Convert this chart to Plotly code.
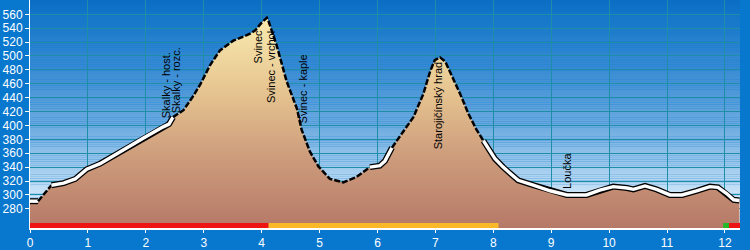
import plotly.graph_objects as go

# ---------------- data ----------------
km = [0.00, 0.14, 0.37, 0.58, 0.78, 0.98, 1.21, 1.55, 1.96, 2.30, 2.40, 2.47,
      2.65, 2.80, 2.94, 3.11, 3.28, 3.51, 3.70, 3.80, 3.89, 4.00, 4.09, 4.12,
      4.26, 4.43, 4.61, 4.69, 4.83, 4.98, 5.18, 5.41, 5.64, 5.87, 6.04, 6.13,
      6.25, 6.39, 6.62, 6.79, 6.91, 6.99, 7.08, 7.17, 7.28, 7.43, 7.57, 7.71,
      7.83, 7.94, 8.03, 8.17, 8.43, 8.69, 8.98, 9.27, 9.61, 9.84, 10.07, 10.31,
      10.42, 10.62, 10.82, 11.05, 11.26, 11.51, 11.74, 11.88, 12.03, 12.15, 12.25]
elev = [291, 291, 314, 317, 323, 337, 345, 362, 382, 398, 402, 412,
        422, 440, 459, 487, 508, 522, 529, 532, 537, 548, 555, 550,
        515, 464, 424, 394, 363, 341, 323, 318, 326, 340, 342, 349,
        368, 384, 412, 445, 478, 494, 498, 492, 473, 445, 417, 394,
        378, 363, 352, 340, 321, 314, 306, 300, 300, 307, 312, 310,
        308, 313, 308, 300, 300, 306, 312, 311, 302, 293, 292]

# steep stretches drawn dashed (km from, km to)
steep_from = [0.14, 2.47, 6.25]
steep_to = [0.37, 5.87, 7.83]

label_names = ["Skalky - host.", "Skalky - rozc.", "Svinec", "Svinec - vrchol",
               "Svinec - kaple", "Starojičínský hrad", "Loučka"]
label_km = [2.35, 2.52, 3.94, 4.16, 4.71, 7.05, 9.26]
label_elev = [458, 465, 514, 484, 453, 428, 335]

seg_start = [0.00, 4.12, 11.97, 12.07]
seg_end = [4.12, 8.09, 12.07, 12.28]
seg_color = ["#EE1414", "#FBB829", "#22B828", "#EE1414"]

x_ticks = list(range(0, 13))
y_ticks = list(range(280, 561, 20))

X_MAX = 12.26
Y_MIN, Y_MAX = 252.4, 580.6
BAR_Y = 256.0

# ---------------- figure ----------------
fig = go.Figure()

# background vertical gradient (below the grid)
bg_stops = [(Y_MIN, (234, 245, 252)), (285, (226, 241, 250)), (300, (204, 229, 247)),
            (340, (160, 203, 237)), (400, (108, 171, 224)), (480, (58, 140, 212)),
            (560, (20, 118, 200)), (Y_MAX, (10, 108, 196))]


def bg_color(v):
    for (a, ca), (b, cb) in zip(bg_stops[:-1], bg_stops[1:]):
        if a <= v <= b:
            t = (v - a) / (b - a)
            c = [round(ca[i] + (cb[i] - ca[i]) * t) for i in range(3)]
            return "rgb(%d,%d,%d)" % tuple(c)
    return "rgb(%d,%d,%d)" % bg_stops[-1][1]


n = 120
step = (Y_MAX - Y_MIN) / n
shapes = []
for i in range(n):
    y0 = Y_MIN + i * step
    shapes.append(dict(type="rect", xref="paper", x0=0, x1=1, yref="y",
                       y0=y0, y1=y0 + step * 1.05, fillcolor=bg_color(y0 + step / 2),
                       line=dict(width=0), layer="below"))

# terrain fill with vertical gradient
fig.add_trace(go.Scatter(
    x=km, y=elev, mode="lines", line=dict(width=0, color="rgba(0,0,0,0)"),
    fill="tozeroy",
    fillgradient=dict(type="vertical", start=Y_MIN, stop=560,
                      colorscale=[[0, "#B47666"], [0.35, "#CD9C7C"],
                                  [0.65, "#E6C490"], [1, "#FAEDB0"]]),
    hoverinfo="skip", showlegend=False))


def in_steep(a, b):
    for s, e in zip(steep_from, steep_to):
        if a >= s - 1e-9 and b <= e + 1e-9:
            return True
    return False


# split profile into runs of same style
runs = []
cur_x, cur_y = [km[0]], [elev[0]]
cur_style = in_steep(km[0], km[1])
for i in range(1, len(km)):
    st = in_steep(km[i - 1], km[i])
    if st != cur_style:
        runs.append((cur_style, cur_x, cur_y))
        cur_x, cur_y = [km[i - 1]], [elev[i - 1]]
        cur_style = st
    cur_x.append(km[i])
    cur_y.append(elev[i])
runs.append((cur_style, cur_x, cur_y))

for steep, xs, ys in runs:
    if steep:
        fig.add_trace(go.Scatter(x=xs, y=ys, mode="lines",
                                 line=dict(color="black", width=2.5, dash="6px,2px"),
                                 hoverinfo="skip", showlegend=False))
    else:
        fig.add_trace(go.Scatter(x=xs, y=ys, mode="lines",
                                 line=dict(color="black", width=6),
                                 hoverinfo="skip", showlegend=False))
        fig.add_trace(go.Scatter(x=xs, y=ys, mode="lines",
                                 line=dict(color="white", width=3.4),
                                 hoverinfo="skip", showlegend=False))

# coloured bar at the bottom
for s, e, c in zip(seg_start, seg_end, seg_color):
    fig.add_trace(go.Scatter(x=[s, e], y=[BAR_Y, BAR_Y], mode="lines",
                             line=dict(color=c, width=5),
                             hoverinfo="skip", showlegend=False))

annotations = []
for name, xk, ye in zip(label_names, label_km, label_elev):
    annotations.append(dict(x=xk, y=ye, text=name, showarrow=False, textangle=-90,
                            xanchor="center", yanchor="middle",
                            font=dict(family="Arial, Liberation Sans", size=11, color="black")))

fig.update_layout(
    width=750, height=250,
    margin=dict(l=30, r=10, t=0, b=16, pad=0),
    paper_bgcolor="#0877CE",
    plot_bgcolor="rgba(0,0,0,0)",
    shapes=shapes,
    annotations=annotations,
    showlegend=False,
    font=dict(family="Arial, Liberation Sans", size=12, color="white"),
)
fig.update_xaxes(range=[0, X_MAX], tickvals=x_ticks, showgrid=True,
                 gridcolor="#1E8EA8", gridwidth=1, zeroline=False,
                 showline=True, linecolor="white", linewidth=1.5,
                 ticks="outside", ticklen=3, tickcolor="white",
                 tickfont=dict(size=12, color="white"))
fig.update_yaxes(range=[Y_MIN, Y_MAX], tickvals=y_ticks, showgrid=True,
                 gridcolor="#1E8EA8", gridwidth=1, zeroline=False,
                 showline=True, linecolor="white", linewidth=1,
                 ticks="outside", ticklen=4, tickcolor="white",
                 tickfont=dict(size=12, color="white"))

fig.write_html("out.html")
